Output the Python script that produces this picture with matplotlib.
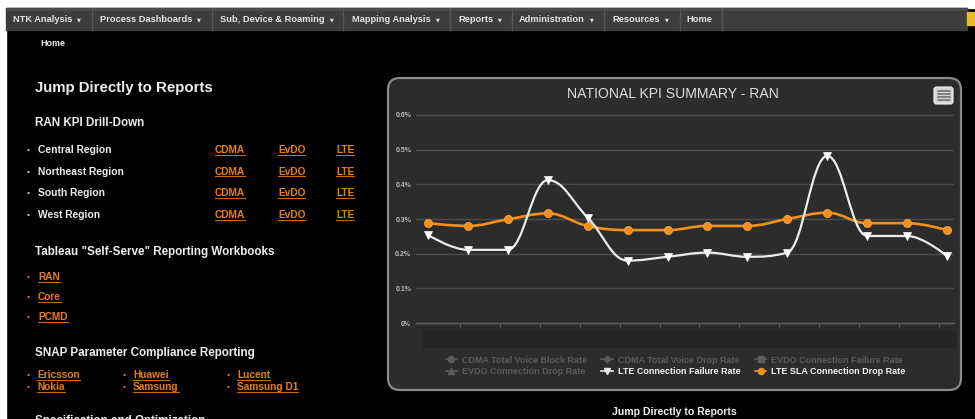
import numpy as np
import matplotlib
matplotlib.use('Agg')
import matplotlib.pyplot as plt
from matplotlib.patches import Rectangle, FancyBboxPatch, PathPatch
from matplotlib.path import Path
from matplotlib.lines import Line2D

# ---------------- data ----------------
periods = list(range(14))
lte_connection_failure = [0.254, 0.211, 0.211, 0.412, 0.304, 0.180, 0.191,
                          0.203, 0.191, 0.203, 0.482, 0.251, 0.251, 0.193]
lte_sla_connection_drop = [0.288, 0.280, 0.299, 0.316, 0.280, 0.268, 0.268,
                           0.280, 0.280, 0.300, 0.318, 0.288, 0.288, 0.268]
y_ticks = [0.0, 0.1, 0.2, 0.3, 0.4, 0.5, 0.6]
y_tick_labels = ['0%', '0.1%', '0.2%', '0.3%', '0.4%', '0.5%', '0.6%']
series_names = ['CDMA Total Voice Block Rate', 'CDMA Total Voice Drop Rate',
                'EVDO Connection Failure Rate', 'EVDO Connection Drop Rate',
                'LTE Connection Failure Rate', 'LTE SLA Connection Drop Rate']
chart_title = 'NATIONAL KPI SUMMARY - RAN'
nav_items = ['NTK Analysis', 'Process Dashboards', 'Sub, Device & Roaming',
             'Mapping Analysis', 'Reports', 'Administration', 'Resources', 'Home']
nav_has_menu = [True, True, True, True, True, True, True, False]
regions = ['Central Region', 'Northeast Region', 'South Region', 'West Region']
techs = ['CDMA', 'EvDO', 'LTE']
workbooks = ['RAN', 'Core', 'PCMD']
vendors = [['Ericsson', 'Nokia'], ['Huawei', 'Samsung'], ['Lucent', 'Samsung D1']]

# ---------------- layout ----------------
W, H = 975, 419
fig = plt.figure(figsize=(W / 100, H / 100), dpi=100)
fig.patch.set_facecolor('black')
bg = fig.add_axes([0, 0, 1, 1])
bg.set_xlim(0, W)
bg.set_ylim(H, 0)
bg.axis('off')

FONT = ['Liberation Sans', 'DejaVu Sans']
ORANGE_LINK = '#e8800f'
WHITE_TXT = '#eeeeee'

# white margins
bg.add_patch(Rectangle((0, 0), W, 8, color='white', zorder=1))
bg.add_patch(Rectangle((0, 0), 6, H, color='white', zorder=1))

# nav bar
bg.add_patch(Rectangle((6, 8), 961, 22, color='#3d3d3d', zorder=2))
bg.add_patch(Rectangle((6, 8), 961, 2, color='#4a4a4a', zorder=2))
bg.add_patch(Rectangle((967, 12), 8, 13, color='#e5bd2a', zorder=2))
nav_x = [13, 100, 220, 352, 458, 519, 612, 686]
sep_x = [92, 212, 343, 450, 512, 604, 680, 722]
nav_texts = []
for name, x in zip(nav_items, nav_x):
    nav_texts.append(bg.text(x, 19, name, color='#e4e4e4', fontsize=6.7,
                             fontweight='bold', family=FONT, ha='left',
                             va='center', zorder=3))
for sx in sep_x:
    bg.plot([sx, sx], [8, 30], color='#565656', lw=1, zorder=3)

bg.text(40, 43, 'Home', color=WHITE_TXT, fontsize=6.4, fontweight='bold',
        family=FONT, va='center', zorder=3)

# left column
links = []
bg.text(35, 88, 'Jump Directly to Reports', color=WHITE_TXT, fontsize=10.8,
        fontweight='bold', family=FONT, va='center')
bg.text(35, 123, 'RAN KPI Drill-Down', color=WHITE_TXT, fontsize=8.4,
        fontweight='bold', family=FONT, va='center')
row_y = [150, 172, 193, 215]
tech_x = [215, 278, 336]
for r, y in zip(regions, row_y):
    bg.text(27, y, '•', color='#cfcfcf', fontsize=6, family=FONT, va='center')
    bg.text(38, y, r, color=WHITE_TXT, fontsize=7.4, fontweight='bold',
            family=FONT, va='center')
    for t, x in zip(techs, tech_x):
        links.append(bg.text(x, y, t, color=ORANGE_LINK, fontsize=7.3,
                             fontweight='bold', family=FONT, va='center'))

bg.text(35, 252, 'Tableau "Self-Serve" Reporting Workbooks', color=WHITE_TXT,
        fontsize=8.4, fontweight='bold', family=FONT, va='center')
for wb, y in zip(workbooks, [277, 297, 317]):
    bg.text(27, y, '•', color=ORANGE_LINK, fontsize=6, family=FONT, va='center')
    links.append(bg.text(38, y, wb, color=ORANGE_LINK, fontsize=7.3,
                         fontweight='bold', family=FONT, va='center'))

bg.text(35, 353, 'SNAP Parameter Compliance Reporting', color=WHITE_TXT,
        fontsize=8.4, fontweight='bold', family=FONT, va='center')
col_bx = [27, 123, 227]
for col, bx in zip(vendors, col_bx):
    for v, y in zip(col, [375, 387]):
        bg.text(bx, y, '•', color=ORANGE_LINK, fontsize=6, family=FONT, va='center')
        links.append(bg.text(bx + 10, y, v, color=ORANGE_LINK, fontsize=7.3,
                             fontweight='bold', family=FONT, va='center'))
bg.text(35, 421, 'Specification and Optimization', color=WHITE_TXT,
        fontsize=8.4, fontweight='bold', family=FONT, va='center')

bg.text(674, 412, 'Jump Directly to Reports', color=WHITE_TXT, fontsize=7.6,
        fontweight='bold', family=FONT, ha='center', va='center')

# chart panel
panel = FancyBboxPatch((388, 78), 573, 312, boxstyle='round,pad=0,rounding_size=12',
                       facecolor='#2c2c2c', edgecolor='#8a8a8a', lw=1.6, zorder=1)
bg.add_patch(panel)
bg.text(673, 94, chart_title, color='#dddddd', fontsize=10.1, family=FONT,
        ha='center', va='center', zorder=3)
menu = FancyBboxPatch((934, 87), 19, 17, boxstyle='round,pad=0,rounding_size=2.5',
                      facecolor='#d6d6d6', edgecolor='#f2f2f2', lw=0.8, zorder=3)
bg.add_patch(menu)
for ly in [91, 94, 97, 100]:
    bg.plot([937.5, 949.5], [ly, ly], color='#6a6a6a', lw=1.1, zorder=4)
# x-axis band
bg.add_patch(Rectangle((423, 330), 532, 17, color='#252525', zorder=2))

# chart axes
x0, x1 = 416, 954
yt, yb = 110, 328
cax = fig.add_axes([x0 / W, 1 - yb / H, (x1 - x0) / W, (yb - yt) / H])
cax.set_facecolor('none')
ppu_y = (323 - 115) / 0.6
cax.set_ylim(-(328 - 323) / ppu_y, 0.6 + (115 - 110) / ppu_y)
ppu_x = (947 - 428) / 13
cax.set_xlim(-(428 - x0) / ppu_x, 13 + (x1 - 947) / ppu_x)
for s in ['top', 'right', 'left']:
    cax.spines[s].set_visible(False)
cax.spines['bottom'].set_position(('data', 0))
cax.spines['bottom'].set_color('#5e5e5e')
cax.spines['bottom'].set_linewidth(1.0)
cax.set_yticks(y_ticks)
cax.set_yticklabels(y_tick_labels)
cax.tick_params(axis='y', length=0, pad=3.5, labelsize=5.0, labelcolor='#bdbdbd')
for lab in cax.get_yticklabels():
    lab.set_fontweight('bold')
    lab.set_family(FONT)
cax.set_xticks(np.arange(13) + 0.8)
cax.set_xticklabels([])
cax.tick_params(axis='x', length=3, width=0.7, color='#5e5e5e', direction='out')
cax.grid(axis='y', color='#4b4b4b', lw=1.0)
cax.set_axisbelow(True)


def spline_path(xs, ys, smoothing=1.5):
    n = len(xs)
    lc = [None] * n
    rc = [None] * n
    d = smoothing + 1
    for i in range(1, n - 1):
        x, y = xs[i], ys[i]
        lx, ly = xs[i - 1], ys[i - 1]
        nx, ny = xs[i + 1], ys[i + 1]
        lcx = (smoothing * x + lx) / d
        lcy = (smoothing * y + ly) / d
        rcx = (smoothing * x + nx) / d
        rcy = (smoothing * y + ny) / d
        corr = 0.0
        if rcx != lcx:
            corr = ((rcy - lcy) * (rcx - x)) / (rcx - lcx) + y - rcy
        lcy += corr
        rcy += corr
        if lcy > ly and lcy > y:
            lcy = max(ly, y); rcy = 2 * y - lcy
        elif lcy < ly and lcy < y:
            lcy = min(ly, y); rcy = 2 * y - lcy
        if rcy > ny and rcy > y:
            rcy = max(ny, y); lcy = 2 * y - rcy
        elif rcy < ny and rcy < y:
            rcy = min(ny, y); lcy = 2 * y - rcy
        lc[i] = (lcx, lcy)
        rc[i] = (rcx, rcy)
    verts = [(xs[0], ys[0])]
    codes = [Path.MOVETO]
    for i in range(1, n):
        c1 = rc[i - 1] if rc[i - 1] else (xs[i - 1], ys[i - 1])
        c2 = lc[i] if lc[i] else (xs[i], ys[i])
        verts += [c1, c2, (xs[i], ys[i])]
        codes += [Path.CURVE4] * 3
    return Path(verts, codes)


WHITE_S = '#ececec'
ORANGE_S = '#f3901c'
cax.add_patch(PathPatch(spline_path(periods, lte_sla_connection_drop), fill=False,
                        edgecolor=ORANGE_S, lw=1.9, zorder=3))
cax.plot(periods, lte_sla_connection_drop, ls='none', marker='o', ms=5.8,
         mfc=ORANGE_S, mec='#f7a444', mew=0.6, zorder=4)
cax.add_patch(PathPatch(spline_path(periods, lte_connection_failure), fill=False,
                        edgecolor=WHITE_S, lw=1.6, zorder=5))
cax.plot(periods, lte_connection_failure, ls='none', marker='v', ms=5.2,
         mfc='white', mec='white', mew=0.5, zorder=6)

# legend (first four series are hidden in the chart)
HID = '#5c5c5c'
symbols = ['o', 'D', 's', '^', 'v', 'o']
colors = [HID, HID, HID, HID, WHITE_S, ORANGE_S]
handles = [Line2D([], [], color=c, marker=m, ms=4.4 if m != 'D' else 3.4, lw=1.2)
           for c, m in zip(colors, symbols)]
order = [0, 3, 1, 4, 2, 5]
leg = cax.legend([handles[i] for i in order], [series_names[i] for i in order],
                 ncol=3, loc='upper left', bbox_to_anchor=(441 / W, 1 - 351 / H),
                 bbox_transform=fig.transFigure, frameon=False, borderpad=0,
                 handlelength=1.3, handletextpad=0.5, columnspacing=1.6,
                 labelspacing=0.25, prop={'family': FONT, 'size': 6.5, 'weight': 'bold'})
for i, txt in zip(order, leg.get_texts()):
    txt.set_color('#5a5a5a' if i < 4 else '#f2f2f2')

# underline links, and dropdown arrows after menu names
fig.canvas.draw()
r = fig.canvas.get_renderer()
inv = bg.transData.inverted()
for t in links:
    bb = t.get_window_extent(renderer=r)
    (ax0, ay0), (ax1, ay1) = inv.transform([[bb.x0, bb.y0], [bb.x1, bb.y1]])
    bg.plot([ax0, ax1], [ay0 - 0.5, ay0 - 0.5], color='#c86a08', lw=0.8)
for t, has in zip(nav_texts, nav_has_menu):
    if not has:
        continue
    bb = t.get_window_extent(renderer=r)
    (ax0, _), (ax1, _) = inv.transform([[bb.x0, bb.y0], [bb.x1, bb.y1]])
    bg.text(ax1 + 7, 19.5, '▼', color='#e4e4e4', fontsize=3.6,
            family='DejaVu Sans', ha='center', va='center', zorder=3)

fig.savefig('out.png', dpi=100, facecolor='black')
